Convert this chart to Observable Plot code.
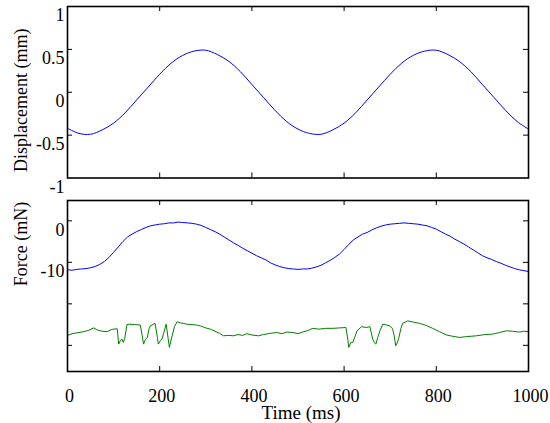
<!DOCTYPE html>
<html><head><meta charset="utf-8">
<script src="https://cdn.jsdelivr.net/npm/d3@7"></script>
<script src="https://cdn.jsdelivr.net/npm/@observablehq/plot@0.6"></script>
<style>
body{margin:0;background:#fff;}
#chart svg{overflow:visible;display:block;}
</style>
</head><body><div id="chart"></div>
<script>
// ---- data ----
const dispTime = [0,25,50,75,100,125,150,175,200,225,250,275,300,325,350,375,400,425,450,475,500,525,550,575,600,625,650,675,700,725,750,775,800,825,850,875,900,925,950,975,1000];
const dispValues = [-0.42,-0.48,-0.49,-0.44,-0.36,-0.24,-0.09,0.06,0.21,0.34,0.43,0.48,0.49,0.44,0.36,0.24,0.09,-0.06,-0.21,-0.34,-0.43,-0.48,-0.49,-0.44,-0.36,-0.24,-0.09,0.06,0.21,0.34,0.43,0.48,0.49,0.44,0.36,0.24,0.09,-0.06,-0.21,-0.34,-0.43];

const forceStep = 10;
const forceBlue = [-11.8,-11.9,-11.7,-11.6,-11.5,-11.3,-11.0,-10.5,-9.8,-8.8,
 -7.6,-6.3,-5.0,-3.9,-3.2,-2.6,-2.1,-1.6,-1.2,-1.0,
 -0.8,-0.7,-0.5,-0.5,-0.3,-0.4,-0.5,-0.6,-0.8,-1.1,
 -1.6,-2.1,-2.6,-3.2,-3.9,-4.6,-5.3,-5.9,-6.6,-7.2,
 -7.8,-8.4,-8.9,-9.4,-10.1,-10.6,-11.0,-11.3,-11.5,-11.6,
 -11.7,-11.6,-11.6,-11.4,-11.1,-10.7,-10.1,-9.5,-8.8,-8.0,
 -6.9,-5.7,-4.6,-3.9,-3.2,-2.8,-2.2,-1.7,-1.3,-1.0,
 -0.8,-0.7,-0.6,-0.5,-0.6,-0.7,-0.8,-1.0,-1.2,-1.6,
 -2.0,-2.6,-3.2,-3.7,-4.4,-5.0,-5.6,-6.3,-7.0,-7.7,
 -8.4,-8.9,-9.3,-9.8,-10.2,-10.7,-11.1,-11.5,-11.8,-12.0,-12.2];

const greenTime = [0,10,20,35,45,57,65,75,86,95,100,108,111,115,118,121,124,129,134,145,158,162,165,169,173,177,180,190,195,197,202,205,208,214,218,221,224,227,232,238,245,251,259,270,280,288,300,310,320,330,338,350,360,370,380,389,400,414,425,440,454,465,475,489,500,510,520,532,545,560,576,590,604,608,610,614,619,624,628,638,648,656,662,666,669,673,678,684,692,699,705,708,712,716,719,723,727,738,750,764,778,792,807,822,835,851,865,887,905,922,937,952,965,980,990,1000];
const greenValues = [-27.6,-27.2,-27.0,-26.7,-26.4,-25.8,-26.3,-26.6,-26.7,-26.2,-26.1,-26.0,-29.7,-28.8,-28.5,-29.3,-28.4,-25.0,-24.9,-25.0,-25.1,-27.7,-29.7,-28.6,-28.1,-26.0,-25.3,-24.7,-28.1,-29.7,-28.8,-28.5,-27.3,-24.9,-28.1,-30.5,-29.0,-27.7,-25.5,-24.3,-24.6,-24.7,-24.9,-25.0,-25.1,-25.3,-25.8,-26.1,-26.6,-27.1,-27.7,-27.6,-27.7,-27.4,-27.6,-27.2,-27.5,-27.7,-27.4,-27.1,-26.9,-27.2,-26.8,-26.9,-27.2,-26.8,-26.5,-25.9,-26.1,-25.9,-25.9,-25.8,-25.7,-28.5,-30.5,-29.4,-29.3,-27.8,-26.5,-25.5,-25.7,-25.5,-28.5,-29.4,-29.7,-28.1,-26.4,-24.9,-25.1,-25.3,-26.0,-27.3,-30.1,-29.2,-28.1,-26.0,-24.7,-24.1,-24.4,-24.7,-25.2,-25.9,-26.7,-27.5,-27.8,-28.1,-27.9,-27.7,-27.4,-27.3,-26.9,-26.5,-26.6,-26.8,-26.6,-26.7];

const xTickLabels = [0,200,400,600,800,1000];
const xInnerTicks = [200,400,600,800];
const dispTickLabels = [1,0.5,0,-0.5,-1];
const dispInnerTicks = [0.5,0,-0.5];
const forceTickLabels = [0,-10];
const forceTicks = [0,-10,-20,-30];

const topLabel = "Displacement (mm)";
const bottomLabel = "Force (mN)";
const xLabel = "Time (ms)";

// ---- layout ----
const W = 550, ML = 67, MR = 22;
const innerW = W - ML - MR;
const TL = 5; // tick length
const font = {fontFamily: "'Liberation Serif', 'Times New Roman', serif", fontSize: "18px", background: "white", color: "black"};

const disp = dispTime.map((t, i) => ({t, v: dispValues[i]}));
const blue = forceBlue.map((v, i) => ({t: i * forceStep, v}));
const green = greenTime.map((t, i) => ({t, v: greenValues[i]}));

function innerTicks(yTicks, innerH) {
  return [
    Plot.tickX(xInnerTicks, {x: d => d, insetBottom: innerH - TL, stroke: "black"}),
    Plot.tickX(xInnerTicks, {x: d => d, insetTop: innerH - TL, stroke: "black"}),
    Plot.tickY(yTicks, {y: d => d, insetRight: innerW - TL, stroke: "black"}),
    Plot.tickY(yTicks, {y: d => d, insetLeft: innerW - TL, stroke: "black"})
  ];
}

// top panel
const topH = 192, topMT = 6, topMB = 14.5;
const topInner = topH - topMT - topMB;
const topChart = Plot.plot({
  width: W, height: topH, marginLeft: ML, marginRight: MR, marginTop: topMT, marginBottom: topMB,
  style: font,
  x: {domain: [0, 1000], axis: null},
  y: {domain: [-1, 1]},
  marks: [
    ...innerTicks(dispInnerTicks, topInner),
    Plot.axisY({ticks: dispTickLabels, tickSize: 0, tickPadding: 3, dy: 9, tickFormat: d => String(d), label: null}),
    Plot.line(disp, {x: "t", y: "v", stroke: "#0000ff", strokeWidth: 1, curve: "catmull-rom"}),
    Plot.text([topLabel], {text: d => d, frameAnchor: "left", textAnchor: "middle", lineAnchor: "middle", dx: -46, dy: 8, rotate: -90}),
    Plot.frame({stroke: "black", strokeWidth: 1.6})
  ]
});

// bottom panel
const botH = 231, botMT = 8, botMB = 52;
const botInner = botH - botMT - botMB;
const bottomChart = Plot.plot({
  width: W, height: botH, marginLeft: ML, marginRight: MR, marginTop: botMT, marginBottom: botMB,
  style: font,
  x: {domain: [0, 1000]},
  y: {domain: [-36.3, 4.9]},
  marks: [
    ...innerTicks(forceTicks, botInner),
    Plot.axisY({ticks: forceTickLabels, tickSize: 0, tickPadding: 3, dy: 9, tickFormat: d => String(d), label: null}),
    Plot.axisX({ticks: xTickLabels, tickSize: 0, tickPadding: 18, dx: 2, tickFormat: d => String(d), label: null}),
    Plot.line(blue, {x: "t", y: "v", stroke: "#0000ff", strokeWidth: 1}),
    Plot.line(green, {x: "t", y: "v", stroke: "#008000", strokeWidth: 1}),
    Plot.text([bottomLabel], {text: d => d, frameAnchor: "left", textAnchor: "middle", lineAnchor: "middle", dx: -46, dy: -42, rotate: -90}),
    Plot.text([xLabel], {text: d => d, frameAnchor: "bottom", textAnchor: "middle", lineAnchor: "middle", dy: 41, dx: 3, fontSize: 19}),
    Plot.frame({stroke: "black", strokeWidth: 1.6})
  ]
});

const c = document.getElementById("chart");
c.appendChild(topChart);
c.appendChild(bottomChart);
</script>
</body></html>
